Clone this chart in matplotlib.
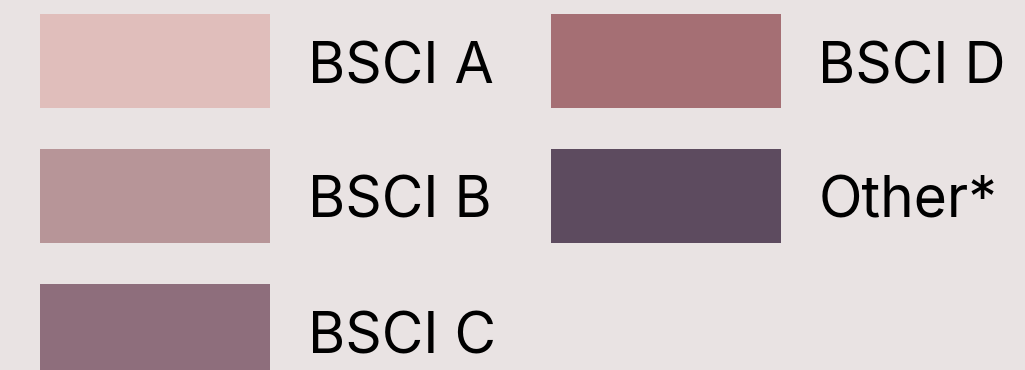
import matplotlib
matplotlib.use("Agg")
import matplotlib.pyplot as plt
from matplotlib.patches import Rectangle

labels = ["BSCI A", "BSCI B", "BSCI C", "BSCI D", "Other*"]
colors = ["#E0BEBB", "#B79598", "#8E6E7C", "#A56F74", "#5D4B5F"]
bg = "#E9E3E3"

W, H = 1025, 370
fig = plt.figure(figsize=(W / 100, H / 100), dpi=100, facecolor=bg)
ax = fig.add_axes([0, 0, 1, 1])
ax.set_xlim(0, W)
ax.set_ylim(H, 0)
ax.axis("off")
ax.set_facecolor(bg)

x0, colstep = 39.5, 511
y0, rowstep = 14, 135
bw, bh = 230, 94
for i, (lab, c) in enumerate(zip(labels, colors)):
    col, row = divmod(i, 3)
    x = x0 + col * colstep
    y = y0 + row * rowstep
    ax.add_patch(Rectangle((x, y), bw, bh, facecolor=c, edgecolor="none"))
    ax.text(x + 268, y + 69, lab, fontsize=41, family="Inter",
            color="black", va="baseline", ha="left")

fig.savefig("out.png", dpi=100, facecolor=bg)
